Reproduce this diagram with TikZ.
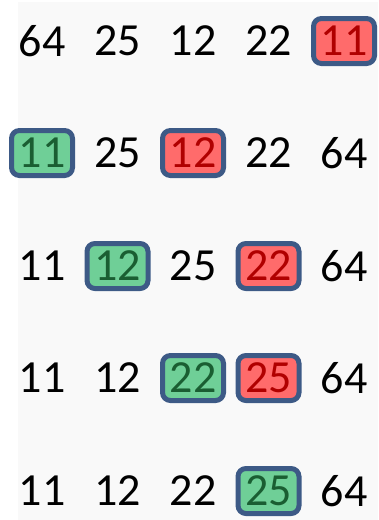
\documentclass[tikz,border=0pt]{standalone}
\usepackage{fontspec}
\setmainfont{Carlito}
\usepackage{tikz}

\definecolor{boxline}{HTML}{3D5A86}
\definecolor{boxred}{HTML}{FF6B6B}
\definecolor{boxgreen}{HTML}{6FCF97}
\definecolor{txtred}{HTML}{B00000}
\definecolor{txtgreen}{HTML}{1A5E32}
\definecolor{bggray}{HTML}{F9F9F9}

\begin{document}
\begin{tikzpicture}[x=1pt, y=-1pt,
		every node/.style={font=\fontsize{46}{46}\selectfont, inner sep=0pt},
		numtxt/.style={text=black},
		swapbox/.style={draw=boxline, line width=5pt, rounded corners=8pt, minimum width=61pt, minimum height=45pt},
		redbox/.style={swapbox, fill=boxred, text=txtred},
		greenbox/.style={swapbox, fill=boxgreen, text=txtgreen}]
	\useasboundingbox (0,0) rectangle (378,520);
	\fill[bggray] (18,2) rectangle (378,520);
	
	% pass 1
	\foreach \v/\s [count=\c] in {64/numtxt,25/numtxt,12/numtxt,22/numtxt,11/redbox}
		\node[\s] (a\c) at ({42+75.5*(\c-1)},41) {\v};
	% pass 2
	\foreach \v/\s [count=\c] in {11/greenbox,25/numtxt,12/redbox,22/numtxt,64/numtxt}
		\node[\s] (b\c) at ({42+75.5*(\c-1)},153) {\v};
	% pass 3
	\foreach \v/\s [count=\c] in {11/numtxt,12/greenbox,25/numtxt,22/redbox,64/numtxt}
		\node[\s] (c\c) at ({42+75.5*(\c-1)},266) {\v};
	% pass 4
	\foreach \v/\s [count=\c] in {11/numtxt,12/numtxt,22/greenbox,25/redbox,64/numtxt}
		\node[\s] (d\c) at ({42+75.5*(\c-1)},378) {\v};
	% pass 5
	\foreach \v/\s [count=\c] in {11/numtxt,12/numtxt,22/numtxt,25/greenbox,64/numtxt}
		\node[\s] (e\c) at ({42+75.5*(\c-1)},491) {\v};
\end{tikzpicture}
\end{document}
